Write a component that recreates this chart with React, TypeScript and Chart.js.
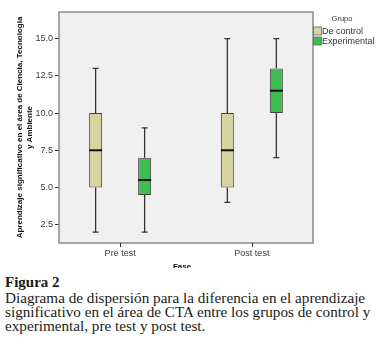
import React, { useEffect, useRef } from 'react';
import { Chart, registerables } from 'chart.js';

Chart.register(...registerables);

// ---------- data ----------
const phases = ['Pre test', 'Post test'];
const phasePositions = [0, 1];
const yTickValues = [2.5, 5, 7.5, 10, 12.5, 15];
const groups = ['De control', 'Experimental'];

const controlMin = [2, 4];
const controlQ1 = [5, 5];
const controlMedian = [7.5, 7.5];
const controlQ3 = [10, 10];
const controlMax = [13, 15];

const expMin = [2, 7];
const expQ1 = [4.5, 10];
const expMedian = [5.5, 11.5];
const expQ3 = [7, 13];
const expMax = [9, 15];

const yTitle = ['Aprendizaje significativo en el área de Ciencia, Tecnologia', 'y Ambiente'];
const xTitle = 'Fase';
const legendTitle = 'Grupo';
const captionTitle = 'Figura 2';
const captionLines = [
  'Diagrama de dispersión para la diferencia en el aprendizaje',
  'significativo en el área de CTA entre los grupos de control y',
  'experimental, pre test y post test.',
];

const groupColors = ['#d8d3a0', '#3dbd4f'];
const SANS = '"Liberation Sans", Arial, sans-serif';

const boxPlugin = {
  id: 'boxPlugin',
  beforeDraw(chart: any) {
    const { ctx, chartArea: a } = chart;
    ctx.save();
    ctx.fillStyle = '#f0f0f0';
    ctx.fillRect(a.left, a.top, a.right - a.left, a.bottom - a.top);
    ctx.restore();
  },
  afterDatasetsDraw(chart: any) {
    const { ctx } = chart;
    const ys = chart.scales.y;
    chart.data.datasets.forEach((ds: any, i: number) => {
      const meta = chart.getDatasetMeta(i);
      const st = ds.stats;
      meta.data.forEach((el: any, j: number) => {
        const { x, width } = el.getProps(['x', 'width'], true);
        const yMin = ys.getPixelForValue(st.min[j]);
        const yQ1 = ys.getPixelForValue(st.q1[j]);
        const yMed = ys.getPixelForValue(st.median[j]);
        const yQ3 = ys.getPixelForValue(st.q3[j]);
        const yMax = ys.getPixelForValue(st.max[j]);
        const cap = 3;
        ctx.save();
        ctx.strokeStyle = '#333';
        ctx.lineWidth = 1.3;
        ctx.beginPath();
        ctx.moveTo(x, yQ3);
        ctx.lineTo(x, yMax);
        ctx.moveTo(x - cap, yMax);
        ctx.lineTo(x + cap, yMax);
        ctx.moveTo(x, yQ1);
        ctx.lineTo(x, yMin);
        ctx.moveTo(x - cap, yMin);
        ctx.lineTo(x + cap, yMin);
        ctx.stroke();
        ctx.strokeStyle = '#111';
        ctx.lineWidth = 2;
        ctx.beginPath();
        ctx.moveTo(x - width / 2, yMed);
        ctx.lineTo(x + width / 2, yMed);
        ctx.stroke();
        ctx.restore();
      });
    });
  },
  afterDraw(chart: any) {
    const { ctx, chartArea: a } = chart;
    const xs = chart.scales.x;
    ctx.save();
    ctx.strokeStyle = '#8a8a8a';
    ctx.lineWidth = 1.5;
    ctx.strokeRect(a.left, a.top, a.right - a.left, a.bottom - a.top);

    // x tick marks at category positions
    ctx.strokeStyle = '#333';
    ctx.lineWidth = 1;
    ctx.beginPath();
    phasePositions.forEach((p) => {
      const px = Math.round(xs.getPixelForValue(p)) + 0.5;
      ctx.moveTo(px, a.bottom);
      ctx.lineTo(px, a.bottom + 4);
    });
    ctx.stroke();

    // x title
    ctx.fillStyle = '#111';
    ctx.font = `bold 8px ${SANS}`;
    ctx.textAlign = 'center';
    ctx.textBaseline = 'middle';
    ctx.fillText(xTitle, 182, 267);

    // legend
    ctx.fillStyle = '#333';
    ctx.font = `7.5px ${SANS}`;
    ctx.fillText(legendTitle, 342, 19);
    ctx.textAlign = 'left';
    ctx.font = `9px ${SANS}`;
    groups.forEach((g, i) => {
      const cy = 31 + i * 10;
      ctx.fillStyle = groupColors[i];
      ctx.fillRect(313.5, cy - 4, 8, 8);
      ctx.strokeStyle = '#666';
      ctx.lineWidth = 0.8;
      ctx.strokeRect(313.5, cy - 4, 8, 8);
      ctx.fillStyle = '#333';
      ctx.fillText(g, 322, cy + 0.5);
    });
    ctx.restore();
  },
};

export default function App() {
  const ref = useRef<HTMLCanvasElement>(null);
  useEffect(() => {
    const makeData = (q1: number[], q3: number[]) =>
      phasePositions.map((p, i) => ({ x: p, y: [q1[i], q3[i]] }));
    const chart = new Chart(ref.current as HTMLCanvasElement, {
      type: 'bar',
      data: {
        datasets: [
          {
            label: groups[0],
            data: makeData(controlQ1, controlQ3),
            backgroundColor: groupColors[0],
            borderColor: '#444',
            borderWidth: 1,
            borderSkipped: false,
            stats: { min: controlMin, q1: controlQ1, median: controlMedian, q3: controlQ3, max: controlMax },
          } as any,
          {
            label: groups[1],
            data: makeData(expQ1, expQ3),
            backgroundColor: groupColors[1],
            borderColor: '#444',
            borderWidth: 1,
            borderSkipped: false,
            stats: { min: expMin, q1: expQ1, median: expMedian, q3: expQ3, max: expMax },
          } as any,
        ],
      },
      options: {
        responsive: false,
        animation: false,
        devicePixelRatio: 1,
        categoryPercentage: 0.744,
        barPercentage: 0.265,
        layout: { padding: { left: 0, top: 12, right: 64, bottom: 0 } },
        plugins: { legend: { display: false }, tooltip: { enabled: false } },
        scales: {
          x: {
            type: 'linear',
            min: -0.464,
            max: 1.464,
            offset: false,
            afterBuildTicks: (s: any) => {
              s.ticks = phasePositions.map((v) => ({ value: v }));
            },
            afterFit: (s: any) => {
              s.height = 25;
            },
            ticks: {
              callback: (v: any) => phases[phasePositions.indexOf(Number(v))] ?? '',
              font: { family: SANS, size: 9 },
              color: '#3a3a3a',
              padding: 5,
              maxRotation: 0,
              autoSkip: false,
            },
            grid: { display: false, drawOnChartArea: false, drawTicks: false },
            border: { display: false },
          },
          y: {
            type: 'linear',
            min: 1.27,
            max: 16.79,
            afterBuildTicks: (s: any) => {
              s.ticks = yTickValues.map((v) => ({ value: v }));
            },
            afterFit: (s: any) => {
              s.width = 59;
            },
            ticks: {
              callback: (v: any) => Number(v).toFixed(1),
              font: { family: SANS, size: 9 },
              color: '#3a3a3a',
              padding: 2,
            },
            grid: { drawOnChartArea: false, tickLength: 4, color: '#333' },
            border: { display: false },
            title: {
              display: true,
              text: yTitle,
              font: { family: SANS, size: 8, weight: 'bold', lineHeight: 1.2 },
              color: '#111',
              padding: { top: 15, bottom: 0 },
            },
          },
        },
      } as any,
      plugins: [boxPlugin],
    });
    return () => chart.destroy();
  }, []);

  return (
    <div style={{ position: 'fixed', left: 0, top: 0, width: 377, height: 354, background: '#fff', overflow: 'hidden' }}>
      <canvas ref={ref} width={377} height={268} style={{ position: 'absolute', left: 0, top: 0, width: 377, height: 268 }} />
      <div
        style={{
          position: 'absolute',
          left: 5,
          top: 273,
          fontFamily: '"Liberation Serif", "Times New Roman", serif',
          color: '#1a1a1a',
          whiteSpace: 'nowrap',
        }}
      >
        <div style={{ fontSize: 15, fontWeight: 'bold', lineHeight: '18px' }}>{captionTitle}</div>
        {captionLines.map((l, i) => (
          <div key={i} style={{ fontSize: 15.2, lineHeight: '14px' }}>
            {l}
          </div>
        ))}
      </div>
    </div>
  );
}
